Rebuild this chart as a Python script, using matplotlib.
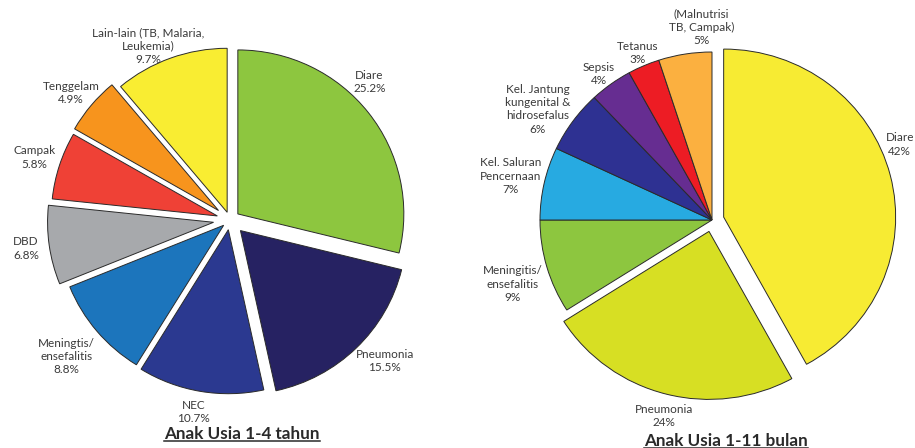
import numpy as np
import matplotlib
matplotlib.use("Agg")
import matplotlib.pyplot as plt
from matplotlib.lines import Line2D

plt.rcParams['font.family'] = ['Lato', 'DejaVu Sans']

W, H, DPI = 915, 448, 100

# --- Anak usia 1-4 tahun ---
kids_names = ["Diare", "Pneumonia", "NEC", "Meningtis/\nensefalitis", "DBD",
              "Campak", "Tenggelam", "Lain-lain (TB, Malaria,\nLeukemia)"]
kids_values = [25.2, 15.5, 10.7, 8.8, 6.8, 5.8, 4.9, 9.7]
kids_title = "Anak Usia 1-4 tahun"

# --- Anak usia 1-11 bulan ---
infant_names = ["Diare", "Pneumonia", "Meningitis/\nensefalitis",
                "Kel. Saluran\nPencernaan",
                "Kel. Jantung\nkungenital &\nhidrosefalus",
                "Sepsis", "Tetanus", "(Malnutrisi\nTB, Campak)"]
infant_values = [42, 24, 9, 7, 6, 4, 3, 5]
infant_title = "Anak Usia 1-11 bulan"

# styling
kids_colors = ["#8dc63f", "#262262", "#2b3990", "#1c75bc", "#a7a9ac",
               "#ef4136", "#f7941d", "#f9ed32"]
kids_explode = [0.06, 0.09, 0.06, 0.05, 0.10, 0.08, 0.09, 0.05]
kids_label_r = [1.19, 1.27, 1.19, 1.29, 1.24, 1.24, 1.23, 1.17]
kids_label_shift = [7, 3, -1, 0, 0, 0, 1, 5]

infant_colors = ["#f7eb33", "#d7df23", "#8dc63f", "#27aae1", "#2e3192",
                 "#662d91", "#ed1c24", "#fbb040"]
infant_explode = [0.07, 0.07, 0, 0, 0, 0, 0, 0]
infant_label_r = [1.18, 1.20, 1.22, 1.20, 1.21, 1.09, 1.085, 1.15]
infant_label_shift = [8, 1, 2, 0, 3, 1, 0, -6]

TEXT = "#3a3a3a"

fig = plt.figure(figsize=(W / DPI, H / DPI), dpi=DPI)
fig.patch.set_facecolor("white")


def draw_pie(values, names, fmt, colors, explode, label_r, label_shift,
             cx, cy, rx, ry, k=1.4):
    ax = fig.add_axes([(cx - k * rx) / W, (H - cy - k * ry) / H,
                       2 * k * rx / W, 2 * k * ry / H])
    wedges, _ = ax.pie(values, colors=colors, explode=explode,
                       startangle=90, counterclock=False,
                       wedgeprops=dict(edgecolor="#2a2a2a", linewidth=0.7))
    for w, name, v, r, s in zip(wedges, names, values, label_r, label_shift):
        mid = np.deg2rad((w.theta1 + w.theta2) / 2 + s)
        ax.text(r * np.cos(mid), r * np.sin(mid), name + "\n" + fmt(v),
                ha="center", va="center", fontsize=8.5, color=TEXT,
                linespacing=1.25)
    ax.set_xlim(-k, k)
    ax.set_ylim(-k, k)
    ax.set_aspect("auto")
    ax.axis("off")
    return ax


draw_pie(kids_values, kids_names, lambda v: f"{v:.1f}%", kids_colors,
         kids_explode, kids_label_r, kids_label_shift,
         cx=230, cy=220, rx=166, ry=164)
draw_pie(infant_values, infant_names, lambda v: f"{v:g}%", infant_colors,
         infant_explode, infant_label_r, infant_label_shift,
         cx=712, cy=220, rx=172, ry=168)

titles = []
for txt, x, y in [(kids_title, 242, 439), (infant_title, 726, 446)]:
    t = fig.text(x / W, (H - y) / H, txt, ha="center", va="baseline",
                 fontsize=12.3, fontweight="bold", color="#2a2a2a")
    titles.append((t, y))

fig.canvas.draw()
renderer = fig.canvas.get_renderer()
for t, y in titles:
    bb = t.get_window_extent(renderer)
    yy = (H - y - 2.2) / H
    fig.add_artist(Line2D([bb.x0 / W, bb.x1 / W], [yy, yy],
                          transform=fig.transFigure, color="#2a2a2a",
                          linewidth=1.1))

fig.savefig("out.png", dpi=DPI, facecolor="white")
